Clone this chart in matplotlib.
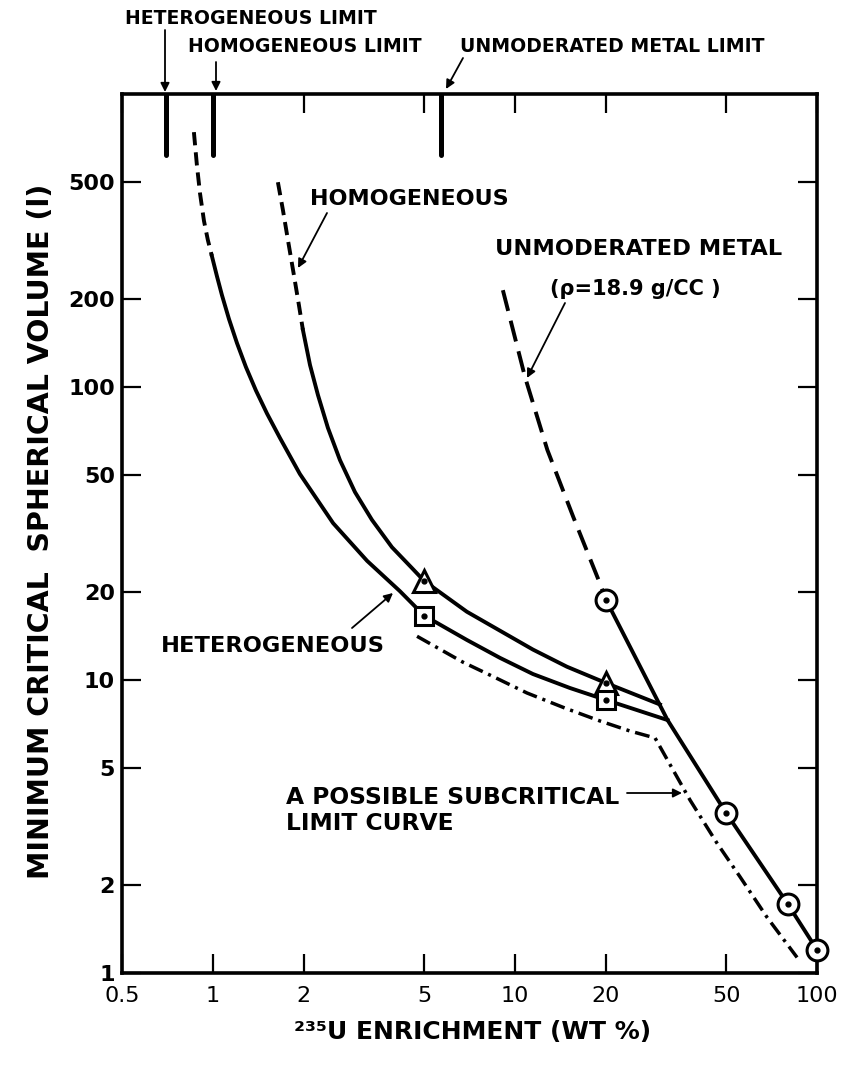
import matplotlib
matplotlib.use("Agg")
import matplotlib.pyplot as plt
from matplotlib.patches import FancyArrowPatch
from matplotlib.ticker import FixedLocator, FixedFormatter, NullLocator

# ---------------- data ----------------
x_ticks = [0.5, 1, 2, 5, 10, 20, 50, 100]
x_ticklabels = ["0.5", "1", "2", "5", "10", "20", "50", "100"]
y_ticks = [1, 2, 5, 10, 20, 50, 100, 200, 500]
y_ticklabels = ["1", "2", "5", "10", "20", "50", "100", "200", "500"]

# limit bars hanging from the top axis (enrichment, wt %)
limit_x = [0.7, 1.0, 5.7]
limit_y_top = 1000
limit_y_bottom = 620

# heterogeneous curve
het_dash_x = [0.865, 0.885, 0.906, 0.934, 0.962, 0.992]
het_dash_y = [741, 572, 459, 369, 317.5, 280]
het_x = [0.992, 1.031, 1.071, 1.130, 1.201, 1.286, 1.388, 1.510, 1.667, 1.94,
         2.50, 3.24, 4.16, 5.0, 6.93, 8.92, 11.47, 15.21, 20, 32]
het_y = [280, 239, 206, 170.7, 141.3, 117.0, 97.3, 81.2, 67.0, 50.5,
         34.3, 25.5, 20.1, 16.6, 13.7, 11.9, 10.48, 9.39, 8.55, 7.3]

# homogeneous curve
hom_dash_x = [1.641, 1.705, 1.771, 1.854, 1.926, 1.986]
hom_dash_y = [500, 402, 318, 241, 190.5, 156.5]
hom_x = [1.986, 2.096, 2.227, 2.403, 2.634, 2.953, 3.361, 3.914, 4.56, 5.0,
         6.93, 11.47, 14.86, 20, 30.2]
hom_y = [156.5, 118.9, 93.9, 72.5, 56.3, 43.8, 35.2, 28.4, 24.1, 21.8,
         17.1, 12.7, 11.1, 9.77, 8.25]

# unmoderated metal curve
metal_dash_x = [9.12, 10.8, 12.8, 15.6, 19.1, 20]
metal_dash_y = [214, 108, 61, 36, 21.4, 18.8]
metal_x = [20, 32, 50, 80, 100]
metal_y = [18.8, 7.3, 3.52, 1.72, 1.2]

# possible subcritical limit curve
sub_x = [4.74, 6.73, 8.59, 10.96, 14.64, 19.1, 24.0, 29.1, 38.0, 46.6, 55.6, 68.3, 85.9]
sub_y = [14.1, 11.5, 10.2, 9.03, 8.02, 7.25, 6.70, 6.34, 3.89, 2.78, 2.13, 1.55, 1.13]

# data-point markers
tri_x = [5, 20]
tri_y = [21.8, 9.8]
sq_x = [5, 20]
sq_y = [16.5, 8.55]
circ_x = [20, 50, 80, 100]
circ_y = [18.8, 3.52, 1.72, 1.2]

# ---------------- figure ----------------
W, H = 846, 1070
fig = plt.figure(figsize=(W / 100, H / 100), dpi=100)
ax = fig.add_axes([122 / W, 1 - 973 / H, 695 / W, 879 / H])
ax.set_xscale("log")
ax.set_yscale("log")
ax.set_xlim(0.5, 100)
ax.set_ylim(1, 1000)

for s in ax.spines.values():
    s.set_linewidth(2.6)

ax.xaxis.set_major_locator(FixedLocator(x_ticks))
ax.xaxis.set_major_formatter(FixedFormatter(x_ticklabels))
ax.xaxis.set_minor_locator(NullLocator())
ax.yaxis.set_major_locator(FixedLocator(y_ticks))
ax.yaxis.set_major_formatter(FixedFormatter(y_ticklabels))
ax.yaxis.set_minor_locator(NullLocator())
ax.tick_params(axis="both", which="major", direction="in", length=13.5, width=1.6,
               top=True, right=True, colors="black")
ax.tick_params(axis="x", pad=9, labelsize=16)
ax.tick_params(axis="y", pad=5, labelsize=16)
for lab in ax.get_yticklabels():
    lab.set_fontweight("bold")

LW = 2.8
# limit bars
ax.vlines(limit_x, limit_y_bottom, limit_y_top, colors="black", linewidth=3.6,
          capstyle="round", zorder=4)

# heterogeneous
ax.plot(het_dash_x, het_dash_y, color="black", lw=LW, ls=(0, (3.4, 1.8)))
ax.plot(het_x, het_y, color="black", lw=LW, solid_joinstyle="round")
# homogeneous
ax.plot(hom_dash_x, hom_dash_y, color="black", lw=LW, ls=(0, (3.4, 1.8)))
ax.plot(hom_x, hom_y, color="black", lw=LW, solid_joinstyle="round")
# metal
ax.plot(metal_dash_x, metal_dash_y, color="black", lw=LW, ls=(0, (5.5, 2.6)))
ax.plot(metal_x, metal_y, color="black", lw=LW, solid_joinstyle="round", clip_on=False)
# subcritical
ax.plot(sub_x, sub_y, color="black", lw=2.5, ls=(0, (4.3, 1.7, 0.9, 1.7)))

# markers
mk = dict(ls="none", mfc="white", mec="black", mew=2.2, clip_on=False, zorder=6)
ax.plot(tri_x, tri_y, marker="^", ms=16, **mk)
ax.plot(sq_x, sq_y, marker="s", ms=13, **mk)
ax.plot(circ_x, circ_y, marker="o", ms=15, **mk)
dots_x = tri_x + sq_x + circ_x
dots_y = tri_y + sq_y + circ_y
ax.plot(dots_x, dots_y, ls="none", marker="o", ms=3.5, color="black", clip_on=False, zorder=7)


def fp(px, py):
    return (px / W, 1 - py / H)


txt = dict(fontweight="bold", color="black", family="DejaVu Sans")
fig.text(*fp(125, 18), "HETEROGENEOUS LIMIT", fontsize=13.6, va="center", ha="left", **txt)
fig.text(*fp(188, 47), "HOMOGENEOUS LIMIT", fontsize=13.6, va="center", ha="left", **txt)
fig.text(*fp(460, 47), "UNMODERATED METAL LIMIT", fontsize=13.6, va="center", ha="left", **txt)
fig.text(*fp(310, 199), "HOMOGENEOUS", fontsize=16, va="center", ha="left", **txt)
fig.text(*fp(495, 249), "UNMODERATED METAL", fontsize=16.2, va="center", ha="left", **txt)
fig.text(*fp(550, 289), "(\u03c1=18.9 g/CC )", fontsize=15, va="center", ha="left", **txt)
fig.text(*fp(161, 646), "HETEROGENEOUS", fontsize=16.2, va="center", ha="left", **txt)
fig.text(*fp(286, 797), "A POSSIBLE SUBCRITICAL", fontsize=16.8, va="center", ha="left", **txt)
fig.text(*fp(286, 823), "LIMIT CURVE", fontsize=16.8, va="center", ha="left", **txt)

arrows = [
    ((165, 30), (165, 92)),
    ((216, 62), (216, 91)),
    ((463, 58), (446, 89)),
    ((327, 213), (298, 268)),
    ((565, 303), (527, 378)),
    ((352, 628), (393, 593)),
    ((627, 793), (682, 793)),
]
for (tail, tip) in arrows:
    fig.add_artist(FancyArrowPatch(
        fp(*tail), fp(*tip), transform=fig.transFigure,
        arrowstyle="-|>", mutation_scale=13, lw=1.3, color="black",
        shrinkA=0, shrinkB=0))

lab = dict(fontweight="bold", family="DejaVu Sans", color="black")
fig.text(*fp(41, 531), "MINIMUM CRITICAL  SPHERICAL VOLUME (l)", rotation=90,
         fontsize=20.5, ha="center", va="center", **lab)
fig.text(*fp(473, 1032), "\u00b2\u00b3\u2075U ENRICHMENT (WT %)",
         fontsize=18, ha="center", va="center", **lab)

fig.savefig("out.png", dpi=100)
